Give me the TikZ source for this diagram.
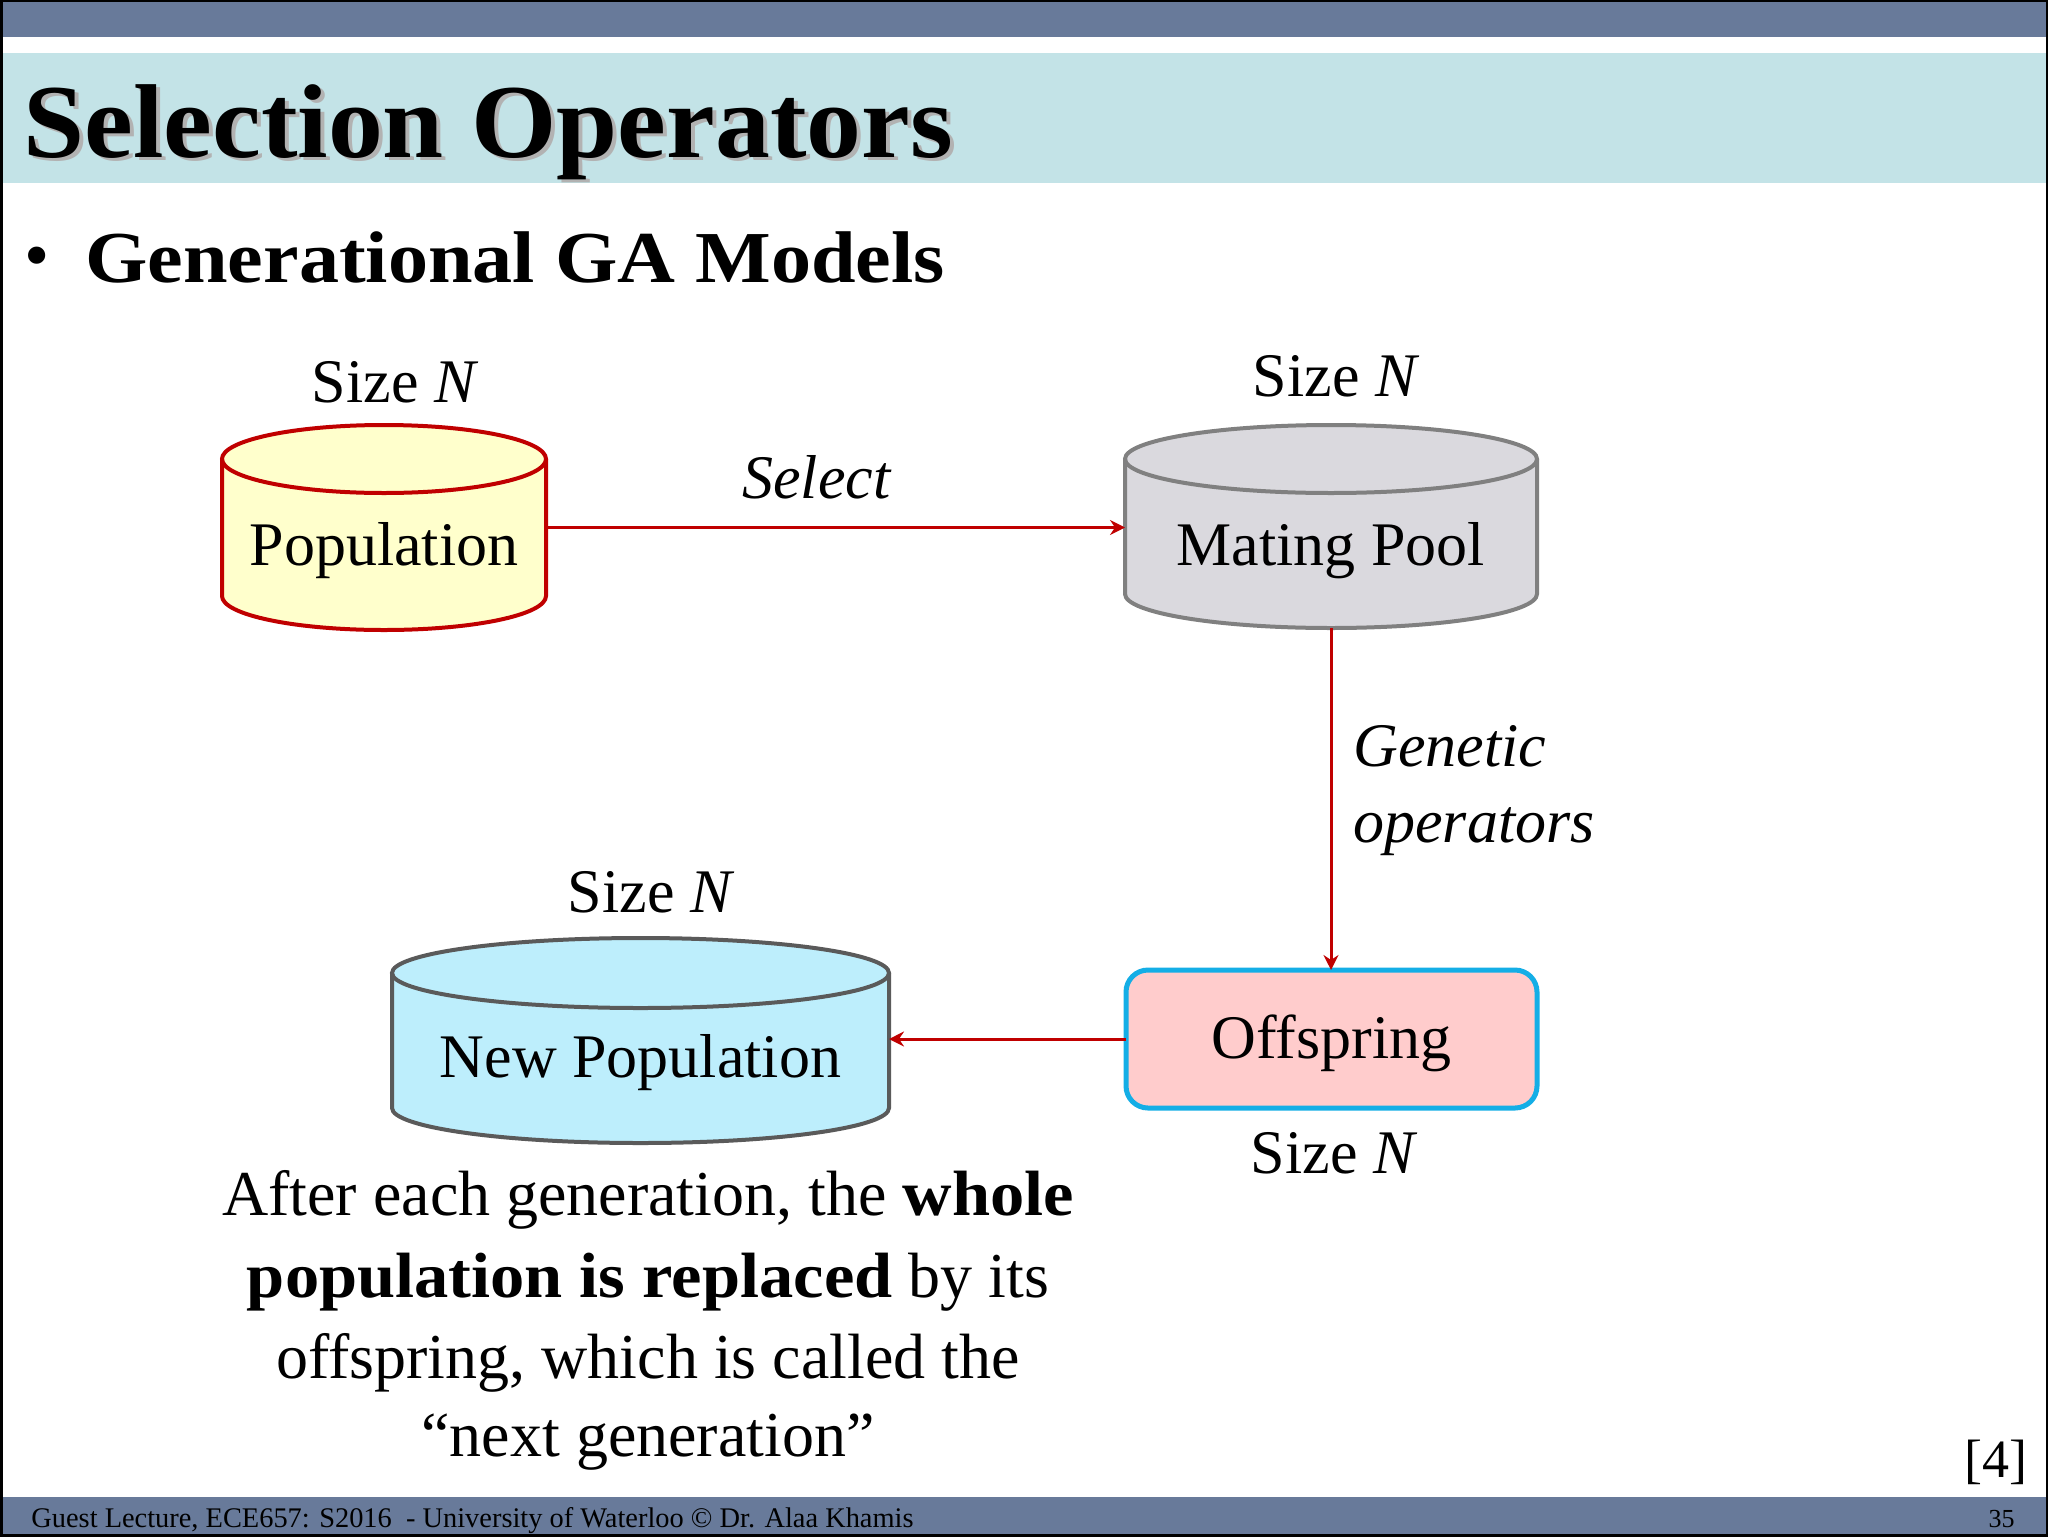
\documentclass[tikz,border=0pt]{standalone}
\usepackage{fontspec}
\setmainfont{Liberation Serif}
\newfontfamily\titlefont{Liberation Serif}[FakeStretch=1.045]
\newfontfamily\headfont{Liberation Serif}[FakeStretch=1.095]
\newfontfamily\parboldfont{Liberation Serif}[FakeStretch=1.07]
\usetikzlibrary{arrows.meta}
\definecolor{barblue}{HTML}{687A9A}
\definecolor{teal}{HTML}{C3E3E7}
\definecolor{popfill}{HTML}{FFFFCC}
\definecolor{popdraw}{HTML}{C00000}
\definecolor{matefill}{HTML}{DAD9DE}
\definecolor{matedraw}{HTML}{808080}
\definecolor{newfill}{HTML}{BDEEFC}
\definecolor{newdraw}{HTML}{5A5A5A}
\definecolor{offfill}{HTML}{FFCCCC}
\definecolor{offdraw}{HTML}{14AEE6}
\definecolor{arrred}{HTML}{C00000}
\newcommand{\mycyl}[7]{% cx, top-centre y, bottom-centre y, rx, ry, fill, draw
  \fill[#6] (#1-#4,#2) -- (#1-#4,#3) arc[start angle=180,end angle=0,x radius=#4,y radius=#5] -- (#1+#4,#2) arc[start angle=0,end angle=180,x radius=#4,y radius=#5] -- cycle;
  \fill[#6] (#1,#2) ellipse[x radius=#4,y radius=#5];
  \draw[#7,line width=2pt] (#1-#4,#2) -- (#1-#4,#3) arc[start angle=180,end angle=0,x radius=#4,y radius=#5] -- (#1+#4,#2);
  \draw[#7,line width=2pt] (#1,#2) ellipse[x radius=#4,y radius=#5];
}
\newcommand{\pb}[1]{{\parboldfont\bfseries #1}}
\begin{document}
\begin{tikzpicture}[x=0.5pt,y=-0.5pt,
  holder/.style={inner sep=0pt,outer sep=0pt,draw=none},
  body/.style={font=\fontsize{31pt}{37pt}\selectfont,inner sep=0pt},
  para/.style={font=\fontsize{32pt}{41pt}\selectfont,inner sep=0pt,align=center},
  arr/.style={draw=arrred,line width=1.5pt,-{Stealth[length=7.5pt,width=7.5pt,inset=2.5pt]}},
  offbox/.style={draw=offdraw,fill=offfill,line width=2.5pt,rounded corners=11pt,inner sep=0pt,outer sep=0pt}]
\useasboundingbox (0,0) rectangle (2048,1536);
% background bars
\fill[white] (0,0) rectangle (2048,1536);
\fill[barblue] (0,0) rectangle (2048,37);
\fill[teal] (0,53) rectangle (2048,183);
\fill[barblue] (0,1497) rectangle (2048,1536);
\draw[black,line width=1.5pt] (1,1) rectangle (2047,1535);
% title
\node[anchor=base west,inner sep=0pt,text=black!30,font=\fontsize{52.5pt}{60pt}\titlefont\bfseries] (titleshadow) at (27,160) {Selection Operators};
\node[anchor=base west,inner sep=0pt,font=\fontsize{52.5pt}{60pt}\titlefont\bfseries] (title) at (23,157) {Selection Operators};
% bullet
\node[anchor=base west,inner sep=0pt,font=\fontsize{36pt}{40pt}\selectfont] (bullet) at (24,279) {•};
\node[anchor=base west,inner sep=0pt,font=\fontsize{36.6pt}{44pt}\headfont\bfseries] (heading) at (85,282) {Generational GA Models};
% cylinders
\mycyl{384}{459}{596}{162}{34}{popfill}{popdraw}
\mycyl{1331}{459}{594}{206}{34}{matefill}{matedraw}
\mycyl{640.5}{973}{1108}{248.5}{35}{newfill}{newdraw}
\node[holder,minimum width=162pt,minimum height=102.5pt] (pop) at (384,527.5) {};
\node[holder,minimum width=206pt,minimum height=101.5pt] (mate) at (1331,526.5) {};
\node[holder,minimum width=248.5pt,minimum height=102.5pt] (newpop) at (640.5,1040.5) {};
\node[offbox,minimum width=205.5pt,minimum height=69pt] (off) at (1331.5,1039) {};
% texts
\node[body,anchor=base] (poptext) at (384,565) {Population};
\node[body,anchor=base] (matetext) at (1331,565) {Mating Pool};
\node[body,anchor=base] (newtext) at (640.5,1077) {New Population};
\node[body,anchor=base] (offtext) at (1331.5,1058) {Offspring};
\node[body,anchor=base] (sizepop) at (395,402) {Size \textit{N}};
\node[body,anchor=base] (sizemate) at (1336,396) {Size \textit{N}};
\node[body,anchor=base] (sizenew) at (651,912) {Size \textit{N}};
\node[body,anchor=base] (sizeoff) at (1334,1173) {Size \textit{N}};
\node[body,anchor=base] (select) at (817,498) {\textit{Select}};
\node[body,anchor=base west] (gen1) at (1353,766) {\textit{Genetic}};
\node[body,anchor=base west] (gen2) at (1353,842) {\textit{operators}};
% arrows
\draw[arr] (pop.east) -- (pop.east -| mate.west);
\draw[arr] (mate.south) -- (mate.south |- off.north);
\draw[arr] (off.west) -- (off.west -| newpop.east);
% paragraph
\node[para,anchor=base] (p1) at (648,1215) {After each generation, the \pb{whole}};
\node[para,anchor=base] (p2) at (648,1297) {\pb{population is replaced} by its};
\node[para,anchor=base] (p3) at (648,1378) {offspring, which is called the};
\node[para,anchor=base] (p4) at (648,1456) {“next generation”};
\node[anchor=base east,inner sep=0pt,font=\fontsize{27pt}{32pt}\selectfont] (ref) at (2028,1477) {[4]};
% footer
\node[anchor=base west,inner sep=0pt,font=\fontsize{14.2pt}{17pt}\selectfont] (foot) at (31,1527) {Guest Lecture, ECE657: S2016\ \ - University of Waterloo © Dr. Alaa Khamis};
\node[anchor=base east,inner sep=0pt,font=\fontsize{13pt}{15pt}\selectfont] (page) at (2015,1527) {35};
\end{tikzpicture}
\end{document}
